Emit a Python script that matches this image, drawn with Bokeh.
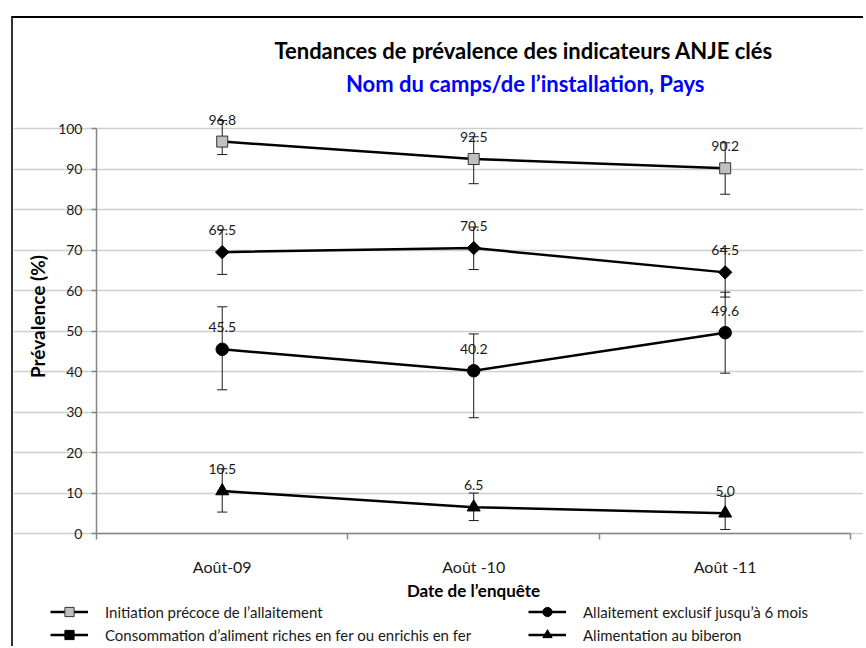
import math
from bokeh.plotting import figure
from bokeh.models import (Range1d, FixedTicker, ColumnDataSource, Whisker, TeeHead,
                          LabelSet, Label, Legend, LegendItem)
from bokeh.core.properties import value
from bokeh.embed import file_html
from bokeh.resources import INLINE

# ---------------- data ----------------
categories = ["Août-09", "Août -10", "Août -11"]

title_text = "Tendances de prévalence des   indicateurs ANJE clés"
subtitle_text = "Nom du camps/de l’installation, Pays"
x_title = "Date de l’enquête"
y_title = "Prévalence (%)"
y_ticks = [0, 10, 20, 30, 40, 50, 60, 70, 80, 90, 100]

name_initiation = "Initiation précoce de l’allaitement"
initiation = [96.8, 92.5, 90.2]
initiation_low = [93.6, 86.4, 83.8]
initiation_high = [102.0, 98.0, 96.5]

name_exclusif = "Allaitement exclusif jusqu’à 6 mois"
exclusif = [45.5, 40.2, 49.6]
exclusif_low = [35.5, 28.6, 39.6]
exclusif_high = [56.0, 49.3, 59.6]

name_fer = "Consommation d’aliment riches en fer ou enrichis en fer"
fer = [69.5, 70.5, 64.5]
fer_low = [64.0, 65.2, 58.4]
fer_high = [75.0, 75.7, 70.4]

name_biberon = "Alimentation au biberon"
biberon = [10.5, 6.5, 5.0]
biberon_low = [5.3, 3.2, 1.0]
biberon_high = [16.0, 10.0, 9.2]

# ---------------- figure ----------------
FONT = "Lato"
AXIS_COLOR = "#868686"
Y_MIN, Y_MAX = -27.9, 127.2   # room below/above the 0-100 axis for legend and titles
X_MIN, X_MAX = -0.33, 3.05    # room left of the axis for tick labels and axis title

xpos = [i + 0.5 for i in range(len(categories))]

p = figure(frame_width=850, frame_height=628,
           x_range=Range1d(X_MIN, X_MAX), y_range=Range1d(Y_MIN, Y_MAX),
           output_backend="svg", toolbar_location=None,
           min_border_left=0, min_border_right=0,
           min_border_top=0, min_border_bottom=0)
p.margin = (16, 0, 0, 11)
p.styles = {"border-top": "2px solid #000000", "border-left": "2px solid #333333"}
p.outline_line_color = None
p.background_fill_color = "white"
p.border_fill_color = "white"
p.title.visible = False

# axes, pinned at the data origin
p.xaxis.fixed_location = 0
p.xaxis.bounds = (0, len(categories))
p.xaxis.ticker = FixedTicker(ticks=xpos, minor_ticks=list(range(len(categories) + 1)))
p.xaxis.major_label_overrides = {xv: c for xv, c in zip(xpos, categories)}
p.xaxis.major_tick_out = 0
p.xaxis.major_tick_in = 0
p.xaxis.minor_tick_out = 6
p.xaxis.minor_tick_in = 0
p.xaxis.minor_tick_line_color = AXIS_COLOR
p.xaxis.minor_tick_line_width = 1.5
p.xaxis.axis_line_color = AXIS_COLOR
p.xaxis.axis_line_width = 1.5
p.xaxis.major_label_text_font = FONT
p.xaxis.major_label_text_font_size = "16px"
p.xaxis.major_label_text_color = "#1a1a1a"
p.xaxis.major_label_standoff = 17
p.xaxis.axis_label = x_title
p.xaxis.axis_label_text_font = FONT
p.xaxis.axis_label_text_font_size = "17px"
p.xaxis.axis_label_text_font_style = "bold"
p.xaxis.axis_label_text_color = "black"
p.xaxis.axis_label_standoff = 1

p.yaxis.fixed_location = 0
p.yaxis.bounds = (0, 100)
p.yaxis.ticker = FixedTicker(ticks=y_ticks)
p.yaxis.minor_tick_out = 0
p.yaxis.minor_tick_in = 0
p.yaxis.major_tick_out = 5
p.yaxis.major_tick_in = 0
p.yaxis.major_tick_line_color = AXIS_COLOR
p.yaxis.major_tick_line_width = 1.5
p.yaxis.axis_line_color = AXIS_COLOR
p.yaxis.axis_line_width = 1.5
p.yaxis.major_label_text_font = FONT
p.yaxis.major_label_text_font_size = "14px"
p.yaxis.major_label_text_color = "#1a1a1a"
p.yaxis.major_label_standoff = 9

p.xgrid.visible = False
p.ygrid.ticker = FixedTicker(ticks=y_ticks)
p.ygrid.bounds = (0, len(categories))
p.ygrid.grid_line_color = "#cfcfcf"
p.ygrid.grid_line_width = 1.5

# y-axis title (placed like the reference, a bit above the axis midpoint)
p.add_layout(Label(x=-0.234, y=53.6, text=y_title, angle=math.pi / 2,
                   text_align="center", text_baseline="middle", text_font=FONT,
                   text_font_size="19px", text_font_style="bold", text_color="black"))

# titles, in the headroom above the axis
p.add_layout(Label(x=1.72, y=119.3, text=title_text, text_align="center",
                   text_baseline="middle", text_font=FONT, text_font_size="22px",
                   text_font_style="bold", text_color="black"))
p.add_layout(Label(x=1.705, y=111.2, text=subtitle_text, text_align="center",
                   text_baseline="middle", text_font=FONT, text_font_size="22px",
                   text_font_style="bold", text_color="#0000ff"))

series = [
    (name_initiation, initiation, initiation_low, initiation_high,
     dict(marker="square", size=11, fill_color="#c0c0c0", line_color="#333333", angle=0.0)),
    (name_fer, fer, fer_low, fer_high,
     dict(marker="square", size=9.5, fill_color="black", line_color="black", angle=math.pi / 4)),
    (name_exclusif, exclusif, exclusif_low, exclusif_high,
     dict(marker="circle", size=12.5, fill_color="black", line_color="black", angle=0.0)),
    (name_biberon, biberon, biberon_low, biberon_high,
     dict(marker="triangle", size=13, fill_color="black", line_color="black", angle=0.0)),
]

items = {}
for name, vals, lo, hi, mk in series:
    src = ColumnDataSource(data=dict(x=xpos, y=vals, lo=lo, hi=hi,
                                     lab=[f"{v:.1f}" for v in vals]))
    w = Whisker(base="x", lower="lo", upper="hi", source=src, dimension="height",
                line_color="#1a1a1a", line_width=1,
                upper_head=TeeHead(size=10, line_color="#1a1a1a", line_width=1),
                lower_head=TeeHead(size=10, line_color="#1a1a1a", line_width=1),
                level="underlay")
    p.add_layout(w)
    rl = p.line("x", "y", source=src, line_color="black", line_width=2.5)
    rm = p.scatter("x", "y", source=src, marker=mk["marker"], size=mk["size"],
                   fill_color=mk["fill_color"], line_color=mk["line_color"],
                   line_width=1, angle=mk["angle"])
    labels = LabelSet(x="x", y="y", text="lab", source=src, y_offset=22,
                      text_align="center", text_baseline="middle",
                      text_font=value(FONT), text_font_size="14px", text_color="#1a1a1a")
    p.add_layout(labels)
    items[name] = LegendItem(label=name, renderers=[rl, rm])

legend = Legend(items=[items[name_initiation], items[name_fer],
                       items[name_exclusif], items[name_biberon]],
                ncols=2, orientation="vertical", location=(37, 0),
                glyph_width=38, glyph_height=23, label_height=23, label_standoff=17,
                label_width=423, spacing=0, padding=0, margin=0,
                border_line_color=None, background_fill_alpha=0,
                label_text_font=FONT, label_text_font_size="15px",
                label_text_color="#1a1a1a")
p.add_layout(legend, "center")

open("out.html", "w").write(file_html(p, INLINE))
